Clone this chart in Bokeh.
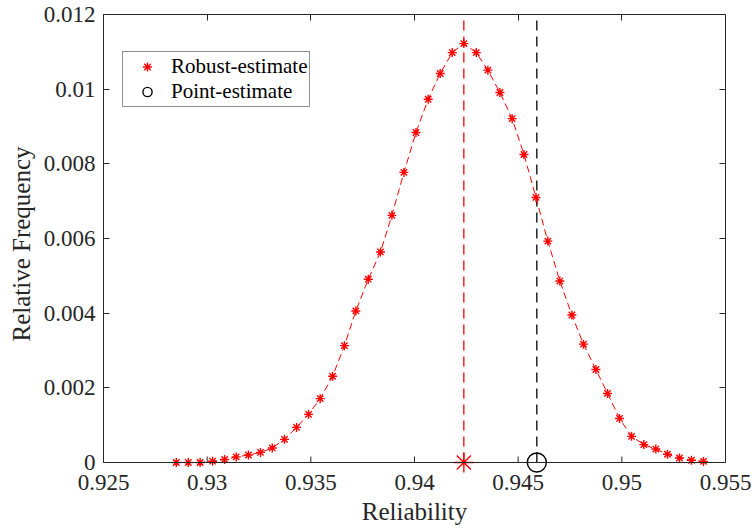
from bokeh.plotting import figure
from bokeh.models import Range1d, LinearAxis, FixedTicker, Legend, LegendItem, Span
from bokeh.embed import file_html
from bokeh.resources import INLINE

reliability = [0.92851, 0.92909, 0.92966, 0.93026, 0.93084, 0.93140, 0.93199, 0.93257,
               0.93314, 0.93373, 0.93431, 0.93489, 0.93545, 0.93605, 0.93662, 0.93717,
               0.93777, 0.93836, 0.93891, 0.93949, 0.94007, 0.94066, 0.94124, 0.94182,
               0.94238, 0.94298, 0.94354, 0.94412, 0.94471, 0.94528, 0.94586, 0.94643,
               0.94701, 0.94759, 0.94815, 0.94875, 0.94931, 0.94989, 0.95047, 0.95106,
               0.95164, 0.95220, 0.95278, 0.95336, 0.95394]
rel_freq = [0.0, 0.0, 0.0, 0.000035, 0.00008, 0.00015, 0.0002, 0.00027,
            0.00039, 0.00062, 0.00094, 0.00129, 0.00171, 0.00231, 0.00313, 0.00406,
            0.00491, 0.00564, 0.00662, 0.00777, 0.00884, 0.00973, 0.01042, 0.01098,
            0.01122, 0.01098, 0.01051, 0.00991, 0.00921, 0.00825, 0.0071, 0.00593,
            0.00486, 0.00395, 0.00317, 0.00249, 0.00185, 0.00118, 0.0007, 0.00048,
            0.00036, 0.00022, 0.00012, 0.00006, 0.00003]
robust_estimate = 0.94238
point_estimate = 0.94590

x_ticks = [0.925, 0.93, 0.935, 0.94, 0.945, 0.95, 0.955]
x_tick_labels = ["0.925", "0.93", "0.935", "0.94", "0.945", "0.95", "0.955"]
y_ticks = [0, 0.002, 0.004, 0.006, 0.008, 0.01, 0.012]
y_tick_labels = ["0", "0.002", "0.004", "0.006", "0.008", "0.01", "0.012"]

X_MIN, X_MAX = 0.925, 0.955
Y_MIN, Y_MAX = 0.0, 0.012

FONT = "Times New Roman"
AX = "#262626"

# data area is 448 px high (0..0.012); 11 px more below 0 so markers at 0 are not clipped
PLOT_H = 448
EXTRA = 11
px = (Y_MAX - Y_MIN) / PLOT_H
y_lo = Y_MIN - EXTRA * px

p = figure(frame_width=622, frame_height=PLOT_H + EXTRA, output_backend="svg", toolbar_location=None,
           x_range=Range1d(X_MIN, X_MAX), y_range=Range1d(y_lo, Y_MAX),
           min_border_left=103, min_border_right=29, min_border_top=14, min_border_bottom=57)
p.xgrid.visible = False
p.ygrid.visible = False
p.outline_line_color = None
p.background_fill_color = "white"

def style(ax, ticks, labels):
    ax.ticker = FixedTicker(ticks=ticks)
    ax.major_label_overrides = {t: l for t, l in zip(ticks, labels)}
    ax.major_tick_in = 6
    ax.major_tick_out = 0
    ax.minor_tick_line_color = None
    ax.axis_line_color = AX
    ax.axis_line_width = 1
    ax.major_tick_line_color = AX
    ax.major_label_text_font = FONT
    ax.major_label_text_font_size = "23px"
    ax.major_label_text_color = AX
    ax.axis_label_text_font = FONT
    ax.axis_label_text_font_size = "25px"
    ax.axis_label_text_font_style = "normal"
    ax.axis_label_text_color = AX

xa = p.xaxis[0]
ya = p.yaxis[0]
style(xa, x_ticks, x_tick_labels)
style(ya, y_ticks, y_tick_labels)
xa.axis_label = "Reliability"
ya.axis_label = "Relative Frequency"
xa.axis_line_color = None
xa.major_tick_line_color = None
xa.major_label_standoff = 1
xa.axis_label_standoff = 5
ya.bounds = (Y_MIN, Y_MAX)
ya.major_label_standoff = 8
ya.axis_label_standoff = 6

# box edges (top / right) with inward ticks, no labels
top = LinearAxis(ticker=FixedTicker(ticks=x_ticks), major_label_text_font_size="1px",
                 major_label_text_color=None,
                 major_tick_in=6, major_tick_out=0, minor_tick_line_color=None,
                 axis_line_color=AX, major_tick_line_color=AX, major_label_standoff=0)
right = LinearAxis(ticker=FixedTicker(ticks=y_ticks), major_label_text_font_size="1px",
                   major_label_text_color=None,
                   major_tick_in=6, major_tick_out=0, minor_tick_line_color=None,
                   axis_line_color=AX, major_tick_line_color=AX, major_label_standoff=0,
                   bounds=(Y_MIN, Y_MAX))
p.add_layout(top, "above")
p.add_layout(right, "right")

# bottom axis line at y = 0 with inward ticks
p.add_layout(Span(location=Y_MIN, dimension="width", line_color=AX, line_width=1))
p.segment(x0=x_ticks, y0=[Y_MIN] * len(x_ticks), x1=x_ticks, y1=[Y_MIN + 6 * px] * len(x_ticks),
          line_color=AX, line_width=1)

# vertical reference lines from 0 to top
p.segment(x0=[robust_estimate], y0=[Y_MIN], x1=[robust_estimate], y1=[Y_MAX],
          line_color="red", line_dash="10 6", line_width=1.3)
p.segment(x0=[point_estimate], y0=[Y_MIN], x1=[point_estimate], y1=[Y_MAX],
          line_color="black", line_dash="10 6", line_width=1.3)

p.line(reliability, rel_freq, line_color="red", line_dash="7 4", line_width=1)
p.scatter(reliability, rel_freq, marker="asterisk", size=9, line_color="red", line_width=1.4)

r_rob = p.scatter([robust_estimate], [Y_MIN], marker="asterisk", size=20, line_color="red", line_width=1.4)
r_pt = p.scatter([point_estimate], [Y_MIN], marker="circle", size=19, line_color="black",
                 fill_color=None, line_width=1.4)

legend = Legend(items=[LegendItem(label="Robust-estimate", renderers=[r_rob]),
                       LegendItem(label="Point-estimate", renderers=[r_pt])],
                location=(19, 366), label_text_font=FONT, label_text_font_size="21px",
                label_text_color="black", border_line_color=AX, border_line_width=1,
                padding=2, spacing=0, glyph_width=44, glyph_height=23, label_standoff=2,
                margin=0, label_height=23)
p.add_layout(legend, "center")

open("out.html", "w").write(file_html(p, INLINE))
